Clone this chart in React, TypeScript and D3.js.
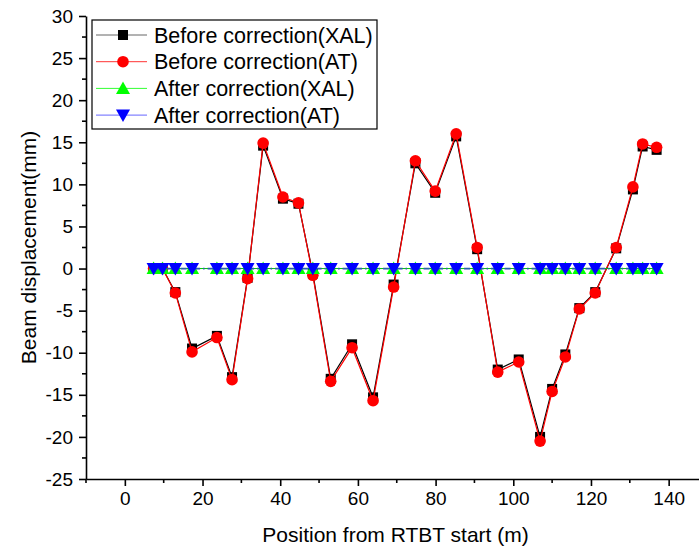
import React, { useEffect, useRef } from 'react';
import * as d3 from 'd3';

// positions along the line (m)
const positions = [
  7.4, 9.7, 13.0, 17.3, 23.7, 27.6, 31.6, 35.6, 40.7, 44.7,
  48.4, 53.0, 58.5, 63.9, 69.2, 74.8, 79.9, 85.3, 90.7, 96.0,
  101.4, 106.9, 110.0, 113.4, 117.0, 121.1, 126.5, 130.8, 133.3, 136.9,
];

const beforeXAL = [
  0.0, 0.0, -2.8, -9.5, -8.0, -12.9, -1.1, 14.6, 8.3, 7.7,
  -0.6, -13.1, -9.0, -15.3, -1.9, 12.5, 9.0, 15.7, 2.3, -12.0,
  -10.8, -20.0, -14.3, -10.2, -4.7, -2.8, 2.4, 9.4, 14.5, 14.1,
];

const beforeAT = [
  0.0, 0.0, -2.9, -9.9, -8.2, -13.2, -1.2, 14.9, 8.5, 7.8,
  -0.8, -13.4, -9.4, -15.7, -2.2, 12.8, 9.2, 16.0, 2.5, -12.3,
  -11.1, -20.5, -14.6, -10.5, -4.8, -2.9, 2.5, 9.7, 14.8, 14.4,
];

const afterXAL = positions.map(() => 0);
const afterAT = positions.map(() => 0);

const xTicks = [0, 20, 40, 60, 80, 100, 120, 140];
const yTicks = [-25, -20, -15, -10, -5, 0, 5, 10, 15, 20, 25, 30];

const seriesNames = [
  'Before correction(XAL)',
  'Before correction(AT)',
  'After correction(XAL)',
  'After correction(AT)',
];

const FONT = '"Liberation Sans", Arial, sans-serif';

const App = () => {
  const svgRef = useRef<SVGSVGElement>(null);

  useEffect(() => {
    const svg = d3.select(svgRef.current);
    svg.selectAll('*').remove();

    const width = 699;
    const height = 548;
    svg.attr('width', width).attr('height', height);

    const x = d3.scaleLinear().domain([-10, 150]).range([86, 707.5]);
    const y = d3.scaleLinear().domain([-25, 30]).range([479, 16]);

    // axes
    const xAxis = svg.append('g')
      .attr('transform', `translate(0,${y(-25)})`)
      .call(d3.axisBottom(x).tickValues(xTicks).tickFormat(d => `${d}`)
        .tickSize(7).tickSizeOuter(0).tickPadding(6));
    xAxis.select('.domain').attr('stroke-width', 1.6);
    xAxis.selectAll('.tick line').attr('stroke-width', 1.6);
    xAxis.selectAll('text')
      .style('font-family', FONT)
      .style('font-size', '19px')
      .style('fill', '#000');
    xAxis.selectAll('.minor')
      .data(d3.range(-10, 151, 20))
      .enter()
      .append('line')
      .attr('class', 'minor')
      .attr('x1', d => x(d))
      .attr('x2', d => x(d))
      .attr('y1', 0)
      .attr('y2', 4)
      .attr('stroke', '#000')
      .attr('stroke-width', 1.6);

    const yAxis = svg.append('g')
      .attr('transform', `translate(${x(-10)},0)`)
      .call(d3.axisLeft(y).tickValues(yTicks).tickFormat(d => `${d}`)
        .tickSize(7).tickSizeOuter(0).tickPadding(6));
    yAxis.select('.domain').attr('stroke-width', 1.6);
    yAxis.selectAll('.tick line').attr('stroke-width', 1.6);
    yAxis.selectAll('text')
      .style('font-family', FONT)
      .style('font-size', '19px')
      .style('fill', '#000');
    yAxis.selectAll('.minor')
      .data(d3.range(-22.5, 30, 5))
      .enter()
      .append('line')
      .attr('class', 'minor')
      .attr('x1', 0)
      .attr('x2', -4)
      .attr('y1', d => y(d))
      .attr('y2', d => y(d))
      .attr('stroke', '#000')
      .attr('stroke-width', 1.6);

    // axis titles
    svg.append('text')
      .attr('x', (x(-10) + 699) / 2 + 3)
      .attr('y', 542)
      .attr('text-anchor', 'middle')
      .style('font-family', FONT)
      .style('font-size', '21px')
      .text('Position from RTBT start (m)');

    svg.append('text')
      .attr('transform', `translate(36,${(y(30) + y(-25)) / 2}) rotate(-90)`)
      .attr('text-anchor', 'middle')
      .style('font-family', FONT)
      .style('font-size', '21px')
      .text('Beam displacement(mm)');

    // marker drawers
    const square = (g, cx, cy) => g.append('rect')
      .attr('x', cx - 5).attr('y', cy - 5).attr('width', 10).attr('height', 10)
      .attr('fill', '#000');
    const circle = (g, cx, cy) => g.append('circle')
      .attr('cx', cx).attr('cy', cy).attr('r', 5.8)
      .attr('fill', '#ff0000');
    const triUp = (g, cx, cy) => g.append('path')
      .attr('d', `M${cx},${cy - 7} L${cx + 7},${cy + 5.5} L${cx - 7},${cy + 5.5}Z`)
      .attr('fill', '#00ff00');
    const triDown = (g, cx, cy) => g.append('path')
      .attr('d', `M${cx},${cy + 7} L${cx + 7},${cy - 5.5} L${cx - 7},${cy - 5.5}Z`)
      .attr('fill', '#0000ff');

    const series = [
      { values: beforeXAL, line: '#000', width: 1.2, dash: null, marker: square },
      { values: beforeAT, line: '#ff0000', width: 1.2, dash: null, marker: circle },
      { values: afterXAL, line: '#00cc00', width: 1, dash: null, marker: triUp },
      { values: afterAT, line: '#2a5db0', width: 1.8, dash: '6,3,1.5,3', marker: triDown },
    ];

    const lineGen = d3.line<number>()
      .x((d, i) => x(positions[i]))
      .y(d => y(d));

    const plot = svg.append('g');
    series.forEach(s => {
      plot.append('path')
        .datum(s.values)
        .attr('d', lineGen)
        .attr('fill', 'none')
        .attr('stroke', s.line)
        .attr('stroke-width', s.width)
        .attr('stroke-dasharray', s.dash);
      const mg = plot.append('g');
      s.values.forEach((v, i) => s.marker(mg, x(positions[i]), y(v)));
    });

    // legend
    const legend = svg.append('g');
    legend.append('rect')
      .attr('x', 92).attr('y', 20).attr('width', 285).attr('height', 109)
      .attr('fill', '#fff').attr('stroke', '#000').attr('stroke-width', 1.2);
    const legendLines = ['#666666', '#ff3333', '#33ff33', '#6666ff'];
    seriesNames.forEach((name, i) => {
      const ly = 35 + i * 26.7;
      legend.append('line')
        .attr('x1', 96).attr('x2', 147).attr('y1', ly).attr('y2', ly)
        .attr('stroke', legendLines[i]).attr('stroke-width', 1);
      series[i].marker(legend, 123, ly);
      legend.append('text')
        .attr('x', 154).attr('y', ly + 7.5)
        .style('font-family', FONT)
        .style('font-size', '21.5px')
        .text(name);
    });
  }, []);

  return (
    <div style={{ position: 'absolute', left: 0, top: 0, background: '#fff' }}>
      <svg ref={svgRef}></svg>
    </div>
  );
};

export default App;
